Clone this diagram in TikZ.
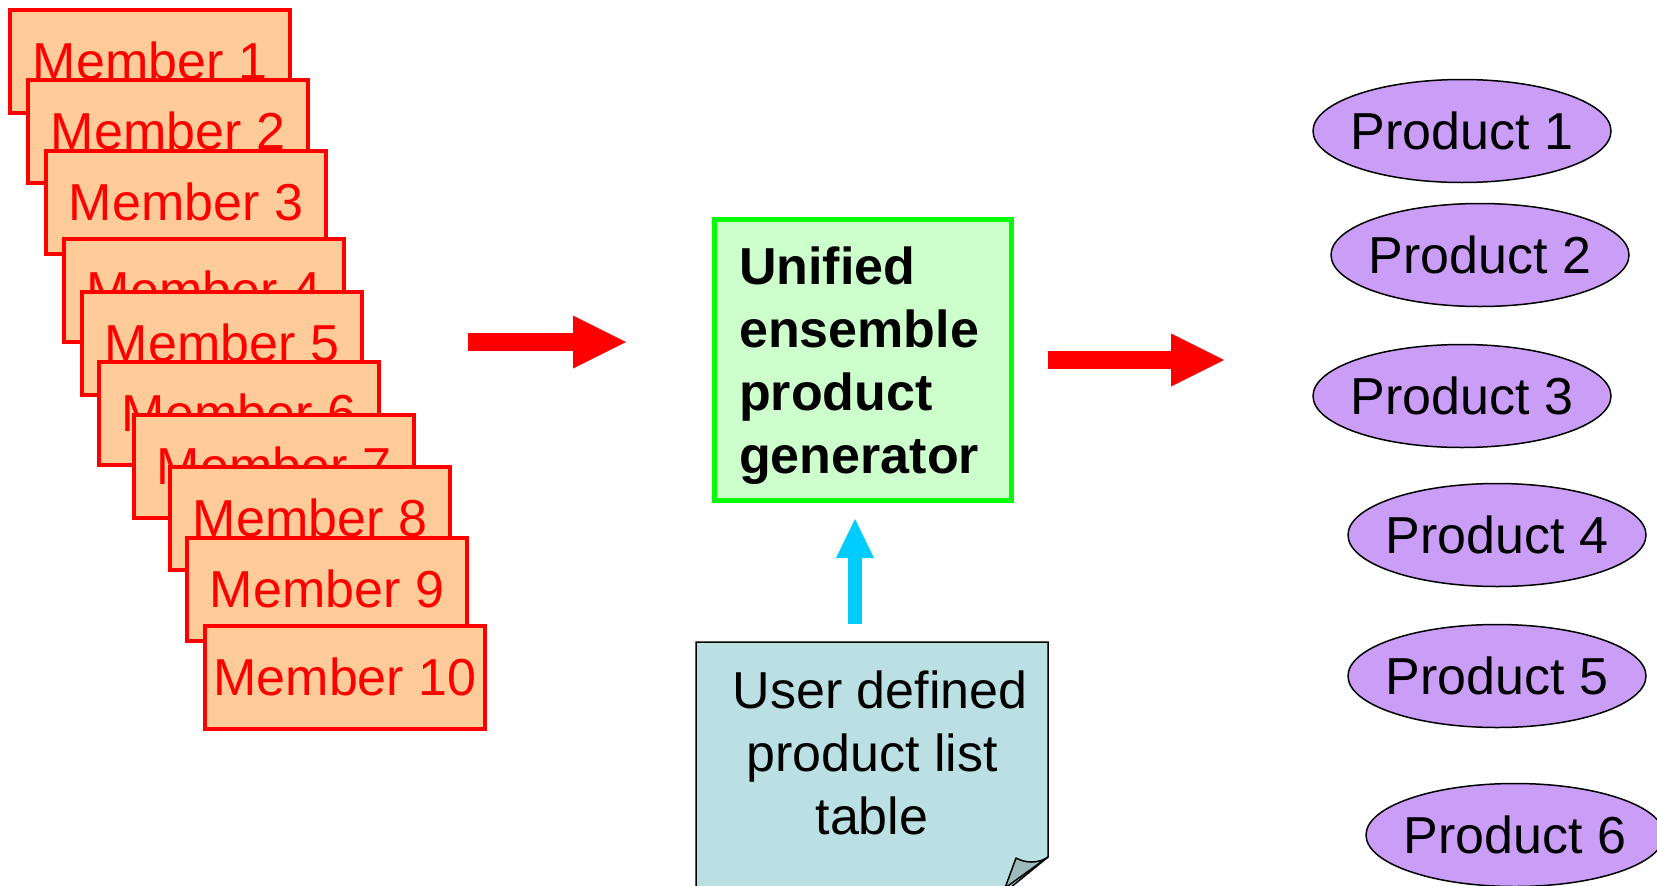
\documentclass[tikz,border=0pt]{standalone}
\usepackage{fontspec}
\setmainfont{Liberation Sans}
\usetikzlibrary{shapes.geometric,arrows.meta}
\definecolor{peach}{HTML}{FFCC99}
\definecolor{pred}{HTML}{FF0000}
\definecolor{genfill}{HTML}{CCFFCC}
\definecolor{genline}{HTML}{00FF00}
\definecolor{notefill}{HTML}{BBE0E3}
\definecolor{foldgray}{HTML}{9DBABD}
\definecolor{prodfill}{HTML}{CA9DF7}
\definecolor{upcyan}{HTML}{00CCFF}
\tikzset{
  member/.style={draw=pred, fill=peach, line width=4pt, rectangle,
    minimum width=280pt, minimum height=103pt, inner sep=0pt,
    text=pred, font=\fontsize{52}{62}\selectfont},
  product/.style={ellipse, draw=black, fill=prodfill, line width=1.5pt,
    minimum width=298pt, minimum height=103pt, inner sep=0pt,
    font=\fontsize{52}{62}\selectfont},
  genbox/.style={draw=genline, fill=genfill, line width=5pt, rectangle,
    minimum width=297pt, minimum height=281pt, inner sep=0pt},
  gentext/.style={align=left, inner sep=0pt, font=\bfseries\fontsize{52}{63}\selectfont},
  notetext/.style={align=center, inner sep=0pt, font=\fontsize{52}{63}\selectfont},
  redarrow/.style={draw=pred, line width=18pt, -{Triangle[length=53pt,width=53pt,line width=0pt]}},
  cyanarrow/.style={draw=upcyan, line width=14pt, -{Triangle[length=39pt,width=38pt,line width=0pt]}},
}
\begin{document}
\begin{tikzpicture}[x=1pt,y=-1pt]
\useasboundingbox (0,0) rectangle (1657,886);
\clip (0,0) rectangle (1657,886);

% stacked ensemble members
\foreach \i/\x/\y in {1/150/61, 2/168/131, 3/186/202, 4/204/290, 5/222/343,
                      6/239/413, 7/274/466, 8/310/518, 9/327/589, 10/345/677}
  \node[member] (m\i) at (\x,\y) {Member \i};

% generator box
\node[genbox] (gen) at (863,360) {};
\node[gentext, anchor=north west] (gt) at (739,247) {Unified\\ensemble\\product\\generator};

% user defined list (note with folded corner)
\filldraw[fill=notefill, draw=black, line width=1.5pt]
  (696,642) -- (1048,642) -- (1048,857) -- (1005,892) -- (696,892) -- cycle;
\filldraw[fill=foldgray, draw=black, line width=1.5pt, line join=round]
  (1048,857) .. controls (1038,864) and (1025,863) .. (1016,858) -- (1005,888) -- cycle;
\node[notetext, anchor=north] (nt) at (872,671) {\hspace*{16pt}User defined\\product list\\table};

% products
\foreach \i/\x/\y in {1/1462/131, 2/1480/255, 3/1462/396, 4/1497/535, 5/1497/676, 6/1515/835}
  \node[product] (p\i) at (\x,\y) {\makebox[0pt]{Product \i}};

% arrows
\coordinate (a1s) at (468,342);
\coordinate (a1e) at (626,342);
\coordinate (a2s) at (1048,360);
\coordinate (a2e) at (1224,360);
\coordinate (a3s) at (855,624);
\coordinate (a3e) at (855,519);
\draw[redarrow] (a1s) -- (a1e);
\draw[redarrow] (a2s) -- (a2e);
\draw[cyanarrow] (a3s) -- (a3e);
\end{tikzpicture}
\end{document}
